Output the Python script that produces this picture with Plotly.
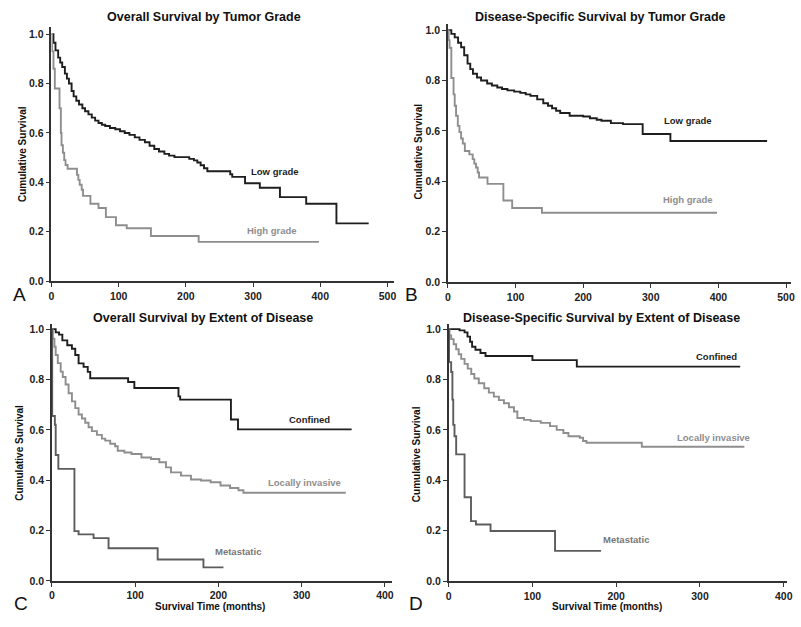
import plotly.graph_objects as go

# ---------------- data (months, cumulative survival) ----------------
A_low_t = [0, 3, 6, 10, 13, 16, 20, 23, 26, 30, 33, 37, 41, 46, 50, 55, 60, 65, 70, 75, 80, 87, 95, 102, 109, 116, 124, 131, 139, 146, 153, 160, 168, 175, 183, 205, 212, 217, 222, 227, 232, 266, 269, 288, 310, 340, 379, 424, 472]
A_low_s = [1.0, 0.965, 0.934, 0.905, 0.885, 0.867, 0.84, 0.82, 0.80, 0.77, 0.748, 0.73, 0.715, 0.70, 0.688, 0.675, 0.662, 0.65, 0.64, 0.633, 0.628, 0.62, 0.615, 0.607, 0.60, 0.592, 0.582, 0.572, 0.562, 0.548, 0.535, 0.525, 0.515, 0.508, 0.502, 0.495, 0.489, 0.48, 0.469, 0.457, 0.445, 0.433, 0.422, 0.396, 0.378, 0.34, 0.313, 0.234, 0.234]
A_high_t = [0, 1, 3, 5, 12, 14, 15, 17, 19, 21, 24, 38, 40, 42, 45, 47, 58, 70, 81, 96, 112, 148, 219, 398]
A_high_s = [1.0, 0.93, 0.86, 0.78, 0.70, 0.60, 0.55, 0.52, 0.49, 0.47, 0.455, 0.43, 0.41, 0.39, 0.37, 0.345, 0.313, 0.296, 0.259, 0.226, 0.214, 0.183, 0.159, 0.159]

B_low_t = [0, 5, 10, 15, 19.5, 24, 29, 33, 37, 43, 49, 58, 65, 73, 80, 88, 98, 107, 115, 122, 132, 141, 148, 154, 160, 166, 180, 200, 210, 220, 227, 241, 259, 288, 329, 472]
B_low_s = [1.0, 0.985, 0.971, 0.95, 0.932, 0.90, 0.867, 0.845, 0.827, 0.812, 0.80, 0.788, 0.78, 0.772, 0.766, 0.761, 0.756, 0.751, 0.745, 0.739, 0.725, 0.71, 0.70, 0.69, 0.68, 0.671, 0.66, 0.657, 0.65, 0.644, 0.64, 0.631, 0.627, 0.588, 0.56, 0.56]
B_high_t = [0, 1, 2.4, 5, 8.3, 10, 12, 14.6, 17, 19.5, 22, 25, 31.7, 36.6, 39, 41.5, 44, 46, 58.5, 82, 95, 139, 398]
B_high_s = [1.0, 0.96, 0.93, 0.81, 0.745, 0.70, 0.66, 0.62, 0.595, 0.57, 0.55, 0.52, 0.507, 0.488, 0.47, 0.455, 0.435, 0.415, 0.39, 0.324, 0.294, 0.275, 0.275]

C_conf_t = [0, 4.5, 8.5, 12.5, 18.4, 24, 28, 32, 38, 43, 46, 91.5, 99, 152, 154, 215, 223.5, 360]
C_conf_s = [1.0, 0.987, 0.978, 0.955, 0.936, 0.922, 0.897, 0.864, 0.85, 0.83, 0.805, 0.79, 0.766, 0.733, 0.72, 0.641, 0.602, 0.602]
C_loc_t = [0, 1, 3, 4.5, 7, 10.5, 13, 16.4, 20, 24, 28, 32, 36, 40, 44, 48, 54, 60, 64, 70, 75.8, 79, 87, 95.6, 107.5, 119, 129, 137, 143, 155, 167, 179, 190.6, 202.5, 214, 224, 230, 353]
C_loc_s = [1.0, 0.962, 0.93, 0.897, 0.865, 0.831, 0.81, 0.78, 0.745, 0.713, 0.686, 0.661, 0.645, 0.628, 0.61, 0.595, 0.58, 0.565, 0.557, 0.545, 0.535, 0.517, 0.51, 0.504, 0.49, 0.484, 0.471, 0.451, 0.431, 0.418, 0.403, 0.399, 0.392, 0.379, 0.369, 0.36, 0.35, 0.35]
C_met_t = [0, 0.3, 3.5, 4.5, 7.7, 27, 32, 50, 68, 127, 182, 206]
C_met_s = [1.0, 0.655, 0.62, 0.50, 0.445, 0.198, 0.185, 0.17, 0.13, 0.085, 0.054, 0.054]

D_conf_t = [0, 13, 19, 22.5, 25.6, 28, 32, 38, 44, 100, 153, 348]
D_conf_s = [1.0, 0.995, 0.987, 0.97, 0.95, 0.93, 0.918, 0.905, 0.893, 0.877, 0.851, 0.851]
D_loc_t = [0, 1, 3, 6, 9, 12, 15, 19, 22.8, 27, 30.7, 36, 42.5, 48, 54, 60, 66, 72, 78, 82, 90, 98, 110, 121, 129, 137, 143, 156.5, 160.5, 164.5, 230.6, 353]
D_loc_s = [1.0, 0.975, 0.96, 0.94, 0.92, 0.90, 0.882, 0.862, 0.843, 0.822, 0.804, 0.785, 0.765, 0.748, 0.732, 0.718, 0.706, 0.69, 0.673, 0.647, 0.64, 0.635, 0.628, 0.615, 0.60, 0.588, 0.575, 0.569, 0.556, 0.549, 0.533, 0.533]
D_met_t = [0, 0.5, 3, 4.5, 5.5, 7, 9, 19, 26.7, 32.6, 50, 127, 182]
D_met_s = [1.0, 0.869, 0.83, 0.72, 0.62, 0.575, 0.503, 0.333, 0.238, 0.225, 0.199, 0.12, 0.12]

titles = ["Overall Survival by Tumor Grade", "Disease-Specific Survival by Tumor Grade",
          "Overall Survival by Extent of Disease", "Disease-Specific Survival by Extent of Disease"]
panel_letters = ["A", "B", "C", "D"]
x_ticks_top = [0, 100, 200, 300, 400, 500]
x_ticks_bottom = [0, 100, 200, 300, 400]
y_ticks = [0.0, 0.2, 0.4, 0.6, 0.8, 1.0]

BLACK = "#1e1e1e"
LGRAY = "#8e8e8e"
MGRAY = "#5c5c5c"

W, H = 801, 627
FONT = "Arial, Liberation Sans, sans-serif"

fig = go.Figure()

series = [
    (1, A_low_t, A_low_s, BLACK), (1, A_high_t, A_high_s, LGRAY),
    (2, B_low_t, B_low_s, BLACK), (2, B_high_t, B_high_s, LGRAY),
    (3, C_conf_t, C_conf_s, BLACK), (3, C_loc_t, C_loc_s, LGRAY), (3, C_met_t, C_met_s, MGRAY),
    (4, D_conf_t, D_conf_s, BLACK), (4, D_loc_t, D_loc_s, LGRAY), (4, D_met_t, D_met_s, MGRAY),
]
for i, t, s, c in series:
    sfx = "" if i == 1 else str(i)
    fig.add_trace(go.Scatter(x=t, y=s, mode="lines", line=dict(color=c, width=1.9, shape="hv"),
                             xaxis="x" + sfx, yaxis="y" + sfx, showlegend=False, hoverinfo="skip"))

# panel geometry in pixels: (x0, x1, ytop, ybottom, xmax, ymax)
geom = [
    (49, 395, 26, 283.3, 509, 1.03),
    (450, 796.7, 23.3, 284.3, 507, 1.024),
    (49.5, 393, 326.7, 586.5, 408, 1.02),
    (450.7, 793, 326.7, 586.7, 404, 1.02),
]
layout = dict(width=W, height=H, margin=dict(l=0, r=0, t=0, b=0),
              paper_bgcolor="white", plot_bgcolor="white",
              font=dict(family=FONT, color="#222"))
for k, (x0, x1, yt, yb, xm, ym) in enumerate(geom):
    sfx = "" if k == 0 else str(k + 1)
    ticks = x_ticks_top if k < 2 else x_ticks_bottom
    layout["xaxis" + sfx] = dict(domain=[x0 / W, x1 / W], range=[0, xm], anchor="y" + sfx,
                                 tickvals=ticks, ticks="outside", ticklen=4, tickwidth=1.2,
                                 tickcolor="#333", showline=True, linecolor="#333", linewidth=1.6,
                                 showgrid=False, zeroline=False,
                                 tickfont=dict(size=10.5, family=FONT, color="#222", weight="bold"))
    layout["yaxis" + sfx] = dict(domain=[1 - yb / H, 1 - yt / H], range=[0, ym], anchor="x" + sfx,
                                 tickvals=y_ticks, tickformat=".1f", ticks="outside", ticklen=4,
                                 tickwidth=1.2, tickcolor="#333", showline=True, linecolor="#333",
                                 linewidth=1.6, showgrid=False, zeroline=False,
                                 tickfont=dict(size=10.5, family=FONT, color="#222", weight="bold"))
fig.update_layout(**layout)

ann = []
def pa(text, x, y, size, color="#111", bold=True, angle=0):
    ann.append(dict(text=text, x=x / W, y=1 - y / H, xref="paper", yref="paper", showarrow=False,
                    textangle=angle, xanchor="center", yanchor="middle",
                    font=dict(size=size, color=color, family=FONT, weight="bold" if bold else "normal")))

# titles
pa(titles[0], 203, 16, 12.5)
pa(titles[1], 604, 16, 12.5)
pa(titles[2], 202, 321, 12.5)
pa(titles[3], 605, 321, 12.5)
# panel letters
pa(panel_letters[0], 17, 297, 19, bold=False)
pa(panel_letters[1], 413, 297, 19, bold=False)
pa(panel_letters[2], 18, 609, 19, bold=False)
pa(panel_letters[3], 418, 609, 19, bold=False)
# y axis titles
pa("Cumulative Survival", 19, 155, 10, angle=-90)
pa("Cumulative Survival", 420, 152, 10, angle=-90)
pa("Cumulative Survival", 17, 457, 10, angle=-90)
pa("Cumulative Survival", 419, 458, 10, angle=-90)
# x axis titles
pa("Survival Time (months)", 209, 612, 10)
pa("Survival Time (months)", 611, 612, 10)

# curve labels (data coordinates)
def da(text, k, x, y, color):
    sfx = "" if k == 1 else str(k)
    ann.append(dict(text=text, x=x, y=y, xref="x" + sfx, yref="y" + sfx, showarrow=False,
                    xanchor="center", yanchor="middle",
                    font=dict(size=9.5, color=color, family=FONT, weight="bold")))

da("Low grade", 1, 332, 0.445, BLACK)
da("High grade", 1, 328, 0.205, LGRAY)
da("Low grade", 2, 355, 0.64, BLACK)
da("High grade", 2, 355, 0.327, LGRAY)
da("Confined", 3, 309, 0.642, BLACK)
da("Locally invasive", 3, 303, 0.391, LGRAY)
da("Metastatic", 3, 223, 0.116, "#777")
da("Confined", 4, 320, 0.893, BLACK)
da("Locally invasive", 4, 316, 0.571, LGRAY)
da("Metastatic", 4, 212, 0.164, "#777")

fig.update_layout(annotations=ann)
fig.write_html("out.html")
